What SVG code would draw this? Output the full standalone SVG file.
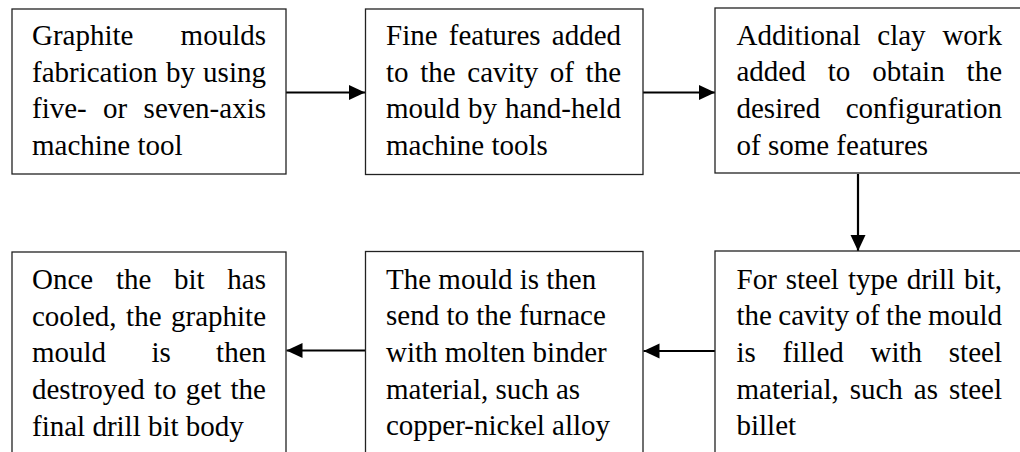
<svg xmlns="http://www.w3.org/2000/svg" width="1020" height="452" viewBox="0 0 1020 452">
<style>
.box{fill:#fff;stroke:#222;stroke-width:1.3}
text{font-family:"Liberation Serif","Times New Roman",serif;font-size:29px;fill:#000}
.conn{stroke:#000;stroke-width:2.2;fill:none;marker-end:url(#arr)}
</style>
<defs>
<marker id="arr" markerUnits="userSpaceOnUse" markerWidth="17" markerHeight="16" refX="16" refY="7.5" orient="auto">
<path d="M0,0 L16,7.5 L0,15 z" fill="#000"/>
</marker>
</defs>
<rect width="1020" height="452" fill="#fff"/>
<g id="connectors">
<line class="conn" x1="286" y1="92.5" x2="365" y2="92.5"/>
<line class="conn" x1="643" y1="92.5" x2="715" y2="92.5"/>
<line class="conn" x1="858" y1="174" x2="858" y2="251"/>
<line class="conn" x1="715" y1="351" x2="643.5" y2="351"/>
<line class="conn" x1="365.5" y1="350.5" x2="286.5" y2="350.5"/>
</g>
<g id="node1">
<rect class="box" x="12" y="9" width="274" height="165"/>
<text y="45"><tspan x="32">Graphite</tspan><tspan x="180.6">moulds</tspan></text>
<text y="81.7"><tspan x="32">fabrication</tspan><tspan x="165.9">by</tspan><tspan x="203.1">using</tspan></text>
<text y="118.3"><tspan x="32">five-</tspan><tspan x="103.1">or</tspan><tspan x="143.6">seven-axis</tspan></text>
<text x="32" y="155">machine tool</text>
</g>
<g id="node2">
<rect class="box" x="365.5" y="9" width="277.5" height="165.5"/>
<text y="45"><tspan x="386">Fine</tspan><tspan x="448.8">features</tspan><tspan x="551.8">added</tspan></text>
<text y="81.7"><tspan x="386">to</tspan><tspan x="420.2">the</tspan><tspan x="467.3">cavity</tspan><tspan x="549.8">of</tspan><tspan x="585.6">the</tspan></text>
<text y="118.3"><tspan x="386">mould</tspan><tspan x="468.1">by</tspan><tspan x="505">hand-held</tspan></text>
<text x="386" y="155">machine tools</text>
</g>
<g id="node3">
<rect class="box" x="715" y="8" width="320" height="165"/>
<text y="44.5"><tspan x="736.5">Additional</tspan><tspan x="877.3">clay</tspan><tspan x="942.4">work</tspan></text>
<text y="81.2"><tspan x="736.5">added</tspan><tspan x="827.7">to</tspan><tspan x="872.2">obtain</tspan><tspan x="966.6">the</tspan></text>
<text y="117.8"><tspan x="736.5">desired</tspan><tspan x="845.75">configuration</tspan></text>
<text x="736.5" y="154.5">of some features</text>
</g>
<g id="node6">
<rect class="box" x="715" y="251" width="320" height="230"/>
<text y="288.5"><tspan x="736.5">For</tspan><tspan x="785.75">steel</tspan><tspan x="847.9">type</tspan><tspan x="906.8">drill</tspan><tspan x="964.1">bit,</tspan></text>
<text y="325.2"><tspan x="736.5">the</tspan><tspan x="778.3">cavity</tspan><tspan x="855.6">of</tspan><tspan x="886.1">the</tspan><tspan x="927.9">mould</tspan></text>
<text y="361.8"><tspan x="736.5">is</tspan><tspan x="782.6">filled</tspan><tspan x="870.5">with</tspan><tspan x="948.8">steel</tspan></text>
<text y="398.5"><tspan x="736.5">material,</tspan><tspan x="849.7">such</tspan><tspan x="913.8">as</tspan><tspan x="948.9">steel</tspan></text>
<text x="736.5" y="435.2">billet</text>
</g>
<g id="node5">
<rect class="box" x="365.5" y="251.5" width="277.5" height="230"/>
<text x="386" y="288.5">The mould is then</text>
<text x="386" y="325.2">send to the furnace</text>
<text x="386" y="361.8">with molten binder</text>
<text x="386" y="398.5">material, such as</text>
<text x="386" y="435.2">copper-nickel alloy</text>
</g>
<g id="node4">
<rect class="box" x="12" y="252" width="274" height="230"/>
<text y="289"><tspan x="32">Once</tspan><tspan x="115.9">the</tspan><tspan x="174">bit</tspan><tspan x="227.3">has</tspan></text>
<text y="325.7"><tspan x="32">cooled,</tspan><tspan x="126.1">the</tspan><tspan x="171">graphite</tspan></text>
<text y="362.3"><tspan x="32">mould</tspan><tspan x="151.4">is</tspan><tspan x="216.1">then</tspan></text>
<text y="399"><tspan x="32">destroyed</tspan><tspan x="154">to</tspan><tspan x="185.8">get</tspan><tspan x="230.5">the</tspan></text>
<text x="32" y="435.7">final drill bit body</text>
</g>
</svg>
